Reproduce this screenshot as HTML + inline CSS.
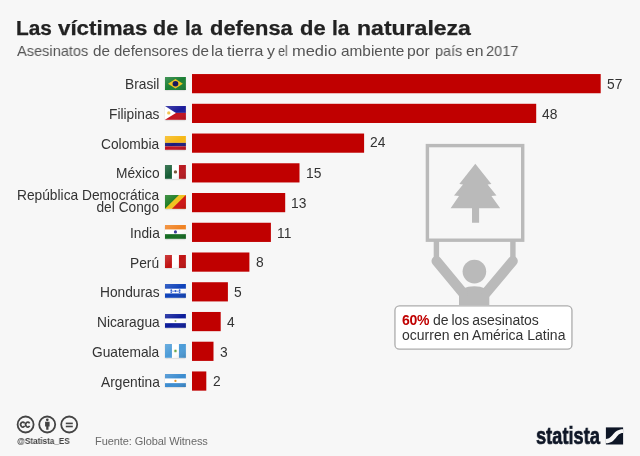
<!DOCTYPE html>
<html><head><meta charset="utf-8">
<style>
*{margin:0;padding:0;box-sizing:border-box}
html,body{width:640px;height:456px;overflow:hidden;background:#f7f7f7;font-family:"Liberation Sans",sans-serif;color:#333}
#c{position:relative;width:640px;height:456px;background:#f7f7f7;overflow:hidden}
.t{position:absolute;left:0;top:16.5px;font-size:20px;font-weight:bold;color:#222;-webkit-text-stroke:0.25px #222;white-space:nowrap;line-height:23px}
.t span,.s span{position:absolute;top:0;transform-origin:0 0;will-change:transform;white-space:nowrap}
.s{position:absolute;left:0;top:41.75px;font-size:15px;color:#555;white-space:nowrap;line-height:17px}
.bar{position:absolute;left:192px;height:19px;background:#c00000}
.lab,.val,.bt,.at,.fu,.lg{will-change:transform}
.lab{position:absolute;right:480.5px;font-size:13.75px;color:#333;white-space:nowrap;text-align:right;line-height:16px}
.val{position:absolute;font-size:13.8px;letter-spacing:0.2px;color:#333;white-space:nowrap;line-height:16px}
.fl{position:absolute;left:164.8px;width:20.9px;height:14px;box-shadow:0.4px 0.8px 1.5px rgba(0,0,0,.28)}
.pic{position:absolute;left:0;top:0;width:640px;height:456px}
.box{position:absolute;left:394.5px;top:305.3px;width:178px;height:44.5px;background:#fff;border:1px solid #b4b4b4;border-radius:5px}
.bt{position:absolute;left:401.5px;font-size:14px;color:#333;white-space:nowrap;line-height:16px}
.bt b{color:#c00000;letter-spacing:-0.3px}
.at{position:absolute;left:16.8px;top:436.4px;font-size:9px;line-height:10px;font-weight:bold;color:#444;white-space:nowrap;transform-origin:0 0;transform:scaleX(0.905)}
.fu{position:absolute;left:95.2px;top:433.8px;font-size:11px;line-height:14px;letter-spacing:-0.07px;color:#6a6a6a;white-space:nowrap}
.lg{position:absolute;left:535.8px;top:421.9px;font-size:24px;font-weight:bold;color:#0e1626;-webkit-text-stroke:0.7px #0e1626;white-space:nowrap;transform-origin:0 0;transform:scaleX(0.76);line-height:28px}
</style></head><body><div id="c">
<div class="t"><span style="left:16.24px;transform:scaleX(1.0412)">Las</span><span style="left:58.10px;transform:scaleX(1.1161)">víctimas</span><span style="left:153.08px;transform:scaleX(1.0749)">de</span><span style="left:184.99px;transform:scaleX(1.0161)">la</span><span style="left:210.07px;transform:scaleX(1.0949)">defensa</span><span style="left:300.07px;transform:scaleX(1.0976)">de</span><span style="left:331.70px;transform:scaleX(1.0484)">la</span><span style="left:356.61px;transform:scaleX(1.1516)">naturaleza</span></div>
<div class="s"><span style="left:16.78px;transform:scaleX(0.9731)">Asesinatos</span><span style="left:92.58px;transform:scaleX(1.0178)">de</span><span style="left:113.84px;transform:scaleX(0.9998)">defensores</span><span style="left:191.83px;transform:scaleX(1.0178)">de</span><span style="left:210.96px;transform:scaleX(1.0435)">la</span><span style="left:226.76px;transform:scaleX(1.0668)">tierra</span><span style="left:267.27px;transform:scaleX(1.0599)">y</span><span style="left:278.42px;transform:scaleX(0.8411)">el</span><span style="left:292.40px;transform:scaleX(1.0962)">medio</span><span style="left:340.56px;transform:scaleX(1.0255)">ambiente</span><span style="left:407.45px;transform:scaleX(1.0457)">por</span><span style="left:434.53px;transform:scaleX(0.9653)">país</span><span style="left:465.53px;transform:scaleX(1.0505)">en</span><span style="left:486.28px;transform:scaleX(0.9725)">2017</span></div>
<svg class="pic" viewBox="0 0 640 456"><g fill="#c00000"><rect x="192" y="74.05" width="408.7" height="19.2"/><rect x="192" y="103.79" width="344.2" height="19.2"/><rect x="192" y="133.53" width="172.1" height="19.2"/><rect x="192" y="163.27" width="107.5" height="19.2"/><rect x="192" y="193.01" width="93.2" height="19.2"/><rect x="192" y="222.75" width="78.9" height="19.2"/><rect x="192" y="252.49" width="57.4" height="19.2"/><rect x="192" y="282.23" width="35.9" height="19.2"/><rect x="192" y="311.97" width="28.7" height="19.2"/><rect x="192" y="341.71" width="21.5" height="19.2"/><rect x="192" y="371.45" width="14.3" height="19.2"/></g></svg>
<div class="lab" style="top:77.20px">Brasil</div>
<svg class="fl" style="top:76.55px;height:13.5px" viewBox="0 0 21 14" preserveAspectRatio="none"><rect width="21" height="14" fill="#1b7f35"/><path d="M10.5 2 L18 7 L10.5 12 L3 7Z" fill="#efc11c"/><circle cx="10.5" cy="7" r="2.9" fill="#16165c"/><rect width="21" height="14" fill="url(#gl)"/></svg>
<div class="val" style="top:77.10px;left:606.9px">57</div>
<div class="lab" style="top:106.94px">Filipinas</div>
<svg class="fl" style="top:105.99px;height:13.8px" viewBox="0 0 21 14" preserveAspectRatio="none"><rect width="21" height="7" fill="#1b1b9a"/><rect y="7" width="21" height="7" fill="#c4101e"/><path d="M0 0 L11 7 L0 14Z" fill="#fff"/><circle cx="3.8" cy="7" r="1.7" fill="#f2c24a"/><rect width="21" height="14" fill="url(#gl)"/></svg>
<div class="val" style="top:106.84px;left:542.4px">48</div>
<div class="lab" style="top:136.68px">Colombia</div>
<svg class="fl" style="top:135.73px;height:13.8px" viewBox="0 0 21 14" preserveAspectRatio="none"><rect width="21" height="7" fill="#f6b816"/><rect y="7" width="21" height="3.5" fill="#1b1b7c"/><rect y="10.5" width="21" height="3.5" fill="#c0101e"/><rect width="21" height="14" fill="url(#gl)"/></svg>
<div class="val" style="top:135.23px;left:370.3px">24</div>
<div class="lab" style="top:166.42px">México</div>
<svg class="fl" style="top:165.47px;height:13.8px" viewBox="0 0 21 14" preserveAspectRatio="none"><rect width="7" height="14" fill="#155c34"/><rect x="7" width="7" height="14" fill="#fff"/><rect x="14" width="7" height="14" fill="#b8181f"/><circle cx="10.5" cy="7" r="1.7" fill="#7a5a3a"/><rect width="21" height="14" fill="url(#gl)"/></svg>
<div class="val" style="top:166.07px;left:305.8px">15</div>
<div class="lab" style="top:189.71px;line-height:12px">República Democrática<br>del Congo</div>
<svg class="fl" style="top:195.21px;height:13.8px" viewBox="0 0 21 14" preserveAspectRatio="none"><rect width="21" height="14" fill="#f0c21e"/><path d="M0 0 L14 0 L0 14Z" fill="#1b7c22"/><path d="M21 0 L21 14 L7 14Z" fill="#d01212"/><rect width="21" height="14" fill="url(#gl)"/></svg>
<div class="val" style="top:195.81px;left:291.4px">13</div>
<div class="lab" style="top:225.90px">India</div>
<svg class="fl" style="top:224.95px;height:13.8px" viewBox="0 0 21 14" preserveAspectRatio="none"><rect width="21" height="4.7" fill="#f08222"/><rect y="4.7" width="21" height="4.6" fill="#fff"/><rect y="9.3" width="21" height="4.7" fill="#146c22"/><circle cx="10.5" cy="7" r="1.6" fill="#3a3a9a"/><rect width="21" height="14" fill="url(#gl)"/></svg>
<div class="val" style="top:225.55px;left:277.1px">11</div>
<div class="lab" style="top:255.64px">Perú</div>
<svg class="fl" style="top:254.69px;height:13.8px" viewBox="0 0 21 14" preserveAspectRatio="none"><rect width="7" height="14" fill="#c01212"/><rect x="7" width="7" height="14" fill="#fff"/><rect x="14" width="7" height="14" fill="#c01212"/><rect width="21" height="14" fill="url(#gl)"/></svg>
<div class="val" style="top:255.29px;left:255.6px">8</div>
<div class="lab" style="top:285.38px">Honduras</div>
<svg class="fl" style="top:284.43px;height:13.8px" viewBox="0 0 21 14" preserveAspectRatio="none"><rect width="21" height="4.9" fill="#0e42ba"/><rect y="4.9" width="21" height="4.7" fill="#fff"/><rect y="9.6" width="21" height="4.4" fill="#0e42ba"/><g fill="#2a5acc"><circle cx="10.5" cy="7.2" r="1.1"/><circle cx="6.3" cy="6.3" r=".95"/><circle cx="6.3" cy="8.2" r=".95"/><circle cx="14.7" cy="6.3" r=".95"/><circle cx="14.7" cy="8.2" r=".95"/><rect x="7.2" y="6.9" width="2.2" height=".7"/><rect x="11.6" y="6.9" width="2.2" height=".7"/></g><rect width="21" height="14" fill="url(#gl)"/></svg>
<div class="val" style="top:285.03px;left:234.0px">5</div>
<div class="lab" style="top:315.12px">Nicaragua</div>
<svg class="fl" style="top:314.17px;height:13.8px" viewBox="0 0 21 14" preserveAspectRatio="none"><rect width="21" height="4.7" fill="#0c1c9a"/><rect y="4.7" width="21" height="4.6" fill="#fff"/><rect y="9.3" width="21" height="4.7" fill="#0c1c9a"/><circle cx="10.5" cy="7" r="1" fill="#a8b878"/><rect width="21" height="14" fill="url(#gl)"/></svg>
<div class="val" style="top:314.77px;left:226.9px">4</div>
<div class="lab" style="top:344.86px">Guatemala</div>
<svg class="fl" style="top:343.91px;height:13.8px" viewBox="0 0 21 14" preserveAspectRatio="none"><rect width="7" height="14" fill="#4c9cd8"/><rect x="7" width="7" height="14" fill="#fff"/><rect x="14" width="7" height="14" fill="#4c9cd8"/><circle cx="10.5" cy="7" r="1.7" fill="#b8d8a0"/><circle cx="10.5" cy="7" r="0.9" fill="#5a9a40"/><rect width="21" height="14" fill="url(#gl)"/></svg>
<div class="val" style="top:344.51px;left:219.7px">3</div>
<div class="lab" style="top:374.60px">Argentina</div>
<svg class="fl" style="top:373.65px;height:13.8px" viewBox="0 0 21 14" preserveAspectRatio="none"><rect width="21" height="4.7" fill="#3c8cd0"/><rect y="4.7" width="21" height="4.6" fill="#fff"/><rect y="9.3" width="21" height="4.7" fill="#3c8cd0"/><circle cx="10.5" cy="7" r="1.15" fill="#e89828"/><rect width="21" height="14" fill="url(#gl)"/></svg>
<div class="val" style="top:374.25px;left:212.5px">2</div>
<svg class="pic" viewBox="0 0 640 456">
<defs><linearGradient id="gl" x1="0" y1="0" x2="1" y2="1"><stop offset="0" stop-color="#fff" stop-opacity=".18"/><stop offset=".5" stop-color="#fff" stop-opacity="0"/><stop offset="1" stop-color="#000" stop-opacity=".15"/></linearGradient></defs>
<g fill="#bababa" stroke="none">
<rect x="433.7" y="240" width="5.4" height="20"/>
<rect x="510.2" y="240" width="5.4" height="20"/>
<circle cx="474.4" cy="271.6" r="11.8"/>
<path d="M459 305 L459 294 Q461 286.3 474.2 286.3 Q487.3 286.3 489.3 294 L489.3 305Z"/>
<path d="M475.3 163.8 L491.4 184 L487.6 184.4 L496.5 195.4 L491.4 196.1 L500.2 208.3 L479.1 208.3 L479.1 222.8 L472 222.8 L472 208.3 L450.6 208.3 L459 196.1 L454 195.4 L463 184.4 L459.3 184Z"/>
</g>
<g fill="none" stroke="#bababa">
<rect x="427.4" y="145.6" width="95.3" height="94.6" stroke-width="3.4"/>
<path d="M436.5 261 L463 293" stroke-width="10" stroke-linecap="round"/>
<path d="M512.8 261 L486 293" stroke-width="10" stroke-linecap="round"/>
</g>
</svg>
<svg class="pic" viewBox="0 0 640 456"><rect x="394.95" y="305.85" width="177" height="43.3" rx="4.5" fill="#fff" stroke="#acacac" stroke-width="1.3"/></svg>
<div class="bt" style="top:312.1px;word-spacing:-0.8px;letter-spacing:-0.05px"><b>60%</b><span style="margin-left:0.8px"> de los asesinatos</span></div>
<div class="bt" style="top:327.4px">ocurren en América Latina</div>
<svg class="pic" viewBox="0 0 640 456">
<g fill="none" stroke="#444" stroke-width="1.8">
<circle cx="25.6" cy="424.5" r="8"/><circle cx="47.2" cy="424.5" r="8"/><circle cx="69.2" cy="424.5" r="8"/>
</g>
<g fill="#444">
<path d="M24.6 423.3 A2.1 2.5 0 1 0 24.6 425.9 M29.6 423.3 A2.1 2.5 0 1 0 29.6 425.9" fill="none" stroke="#444" stroke-width="1.7"/>
<circle cx="47.3" cy="419.8" r="1.35"/><path d="M45.1 421.7 h4.5 v4.7 h-1.1 v3.4 h-2.3 v-3.4 h-1.1z"/>
<rect x="65.8" y="422.6" width="7" height="1.6"/><rect x="65.8" y="425.7" width="7" height="1.6"/>
</g>
<rect x="605.9" y="427.4" width="17.2" height="17.1" fill="#0e1626"/>
<path d="M605.9 438.9 C613.5 438.9 612.5 429.3 623.1 429.3 L623.1 432.9 C615.5 432.9 616.5 443.2 605.9 443.2Z" fill="#f7f7f7"/>
</svg>
<div class="at">@Statista_ES</div>
<div class="fu">Fuente: Global Witness</div>
<div class="lg">statista</div>
</div></body></html>
